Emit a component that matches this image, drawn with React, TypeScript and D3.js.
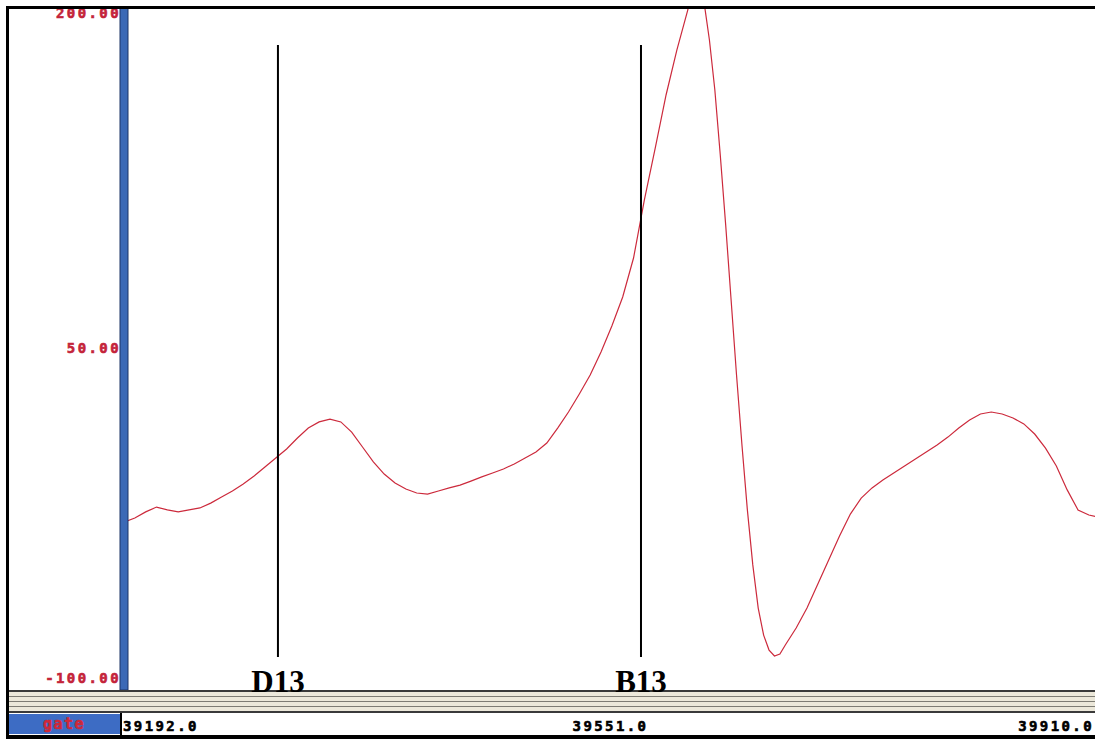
import React from 'react';
import * as d3 from 'd3';

// Sample times (x) and signal values (y)
const times = [
  39192, 39200, 39208, 39216, 39224, 39232, 39240, 39248, 39256, 39264,
  39272, 39280, 39288, 39296, 39304, 39312, 39320, 39328, 39336, 39344,
  39352, 39360, 39368, 39376, 39384, 39392, 39400, 39408, 39416, 39424,
  39432, 39440, 39448, 39456, 39464, 39472, 39480, 39488, 39496, 39504,
  39512, 39520, 39528, 39536, 39544, 39552, 39560, 39568, 39576, 39584,
  39592, 39600, 39608, 39612, 39616, 39620, 39624, 39628, 39632, 39636,
  39640, 39644, 39648, 39652, 39656, 39660, 39664, 39668, 39672, 39676,
  39680, 39688, 39696, 39704, 39712, 39720, 39728, 39736, 39744, 39752,
  39760, 39768, 39776, 39784, 39792, 39800, 39808, 39816, 39824, 39832,
  39840, 39848, 39856, 39864, 39872, 39880, 39888, 39896, 39904, 39910,
];
const values = [
  -29.1, -27.3, -24.5, -22.3, -23.6, -24.5, -23.6, -22.7, -20.5, -17.7,
  -15.0, -11.8, -8.2, -4.1, 0.0, 4.1, 9.1, 13.6, 16.4, 17.7,
  16.4, 11.8, 5.0, -1.8, -7.3, -11.4, -14.1, -15.9, -16.4, -15.0,
  -13.6, -12.3, -10.5, -8.6, -6.8, -5.0, -2.7, 0.0, 2.7, 6.8,
  13.6, 20.9, 29.1, 37.7, 48.2, 60.0, 73.2, 90.9, 117.3, 140.9,
  165.0, 185.5, 203.6, 213.6, 217.3, 207.3, 190.0, 167.3, 137.7, 105.9,
  71.8, 37.7, 5.9, -23.6, -48.6, -68.2, -80.5, -87.3, -90.0, -89.1,
  -85.0, -77.3, -68.2, -57.3, -46.4, -35.5, -25.5, -18.2, -13.6, -10.0,
  -6.8, -3.6, -0.5, 2.7, 5.9, 9.5, 13.6, 17.3, 20.0, 20.9,
  20.0, 18.2, 15.5, 10.9, 4.5, -3.6, -14.5, -23.6, -25.9, -26.8,
];
const yTicks = [200, 50, -100];
const xTicks = [39192, 39551, 39910];
const markerLabels = ['D13', 'B13'];
const markerTimes = [39305.6, 39573.5];
const channelName = 'gate';

const W = 1095;
const H = 739;

export default function App() {
  const x = d3.scaleLinear().domain([39192, 39910]).range([124, 1097]);
  const y = d3.scaleLinear().domain([-100, 200]).range([678, 18]);
  const data = times.map((t, i) => [t, values[i]] as [number, number]);
  const line = d3
    .line<[number, number]>()
    .x((d) => x(d[0]))
    .y((d) => y(d[1]))
    .curve(d3.curveLinear);

  const plotLeft = 128;
  const plotTop = 9;
  const plotBottom = 690;
  const mono = "'DejaVu Sans Mono', monospace";

  const stripes = [
    { y: 690, h: 2, c: '#3a3a3a' },
    { y: 692, h: 4, c: '#ece8da' },
    { y: 696, h: 1, c: '#7e7c74' },
    { y: 697, h: 4, c: '#ece8da' },
    { y: 701, h: 1, c: '#7e7c74' },
    { y: 702, h: 4, c: '#ece8da' },
    { y: 706, h: 1, c: '#7e7c74' },
    { y: 707, h: 4, c: '#ece8da' },
    { y: 711, h: 2, c: '#3a3a3a' },
  ];

  const labelStyle = {
    fontFamily: mono,
    fontWeight: 'bold' as const,
    fontSize: 14,
    letterSpacing: 2.4,
    strokeWidth: 0.6,
  };

  return (
    <svg
      width={W}
      height={H}
      style={{ position: 'absolute', left: 0, top: 0, background: '#fff' }}
    >
      <defs>
        <clipPath id="plotClip">
          <rect x={plotLeft} y={plotTop} width={W - plotLeft} height={plotBottom - plotTop} />
        </clipPath>
      </defs>
      <rect x={0} y={0} width={W} height={H} fill="#fff" />

      {/* y labels */}
      {yTicks.map((v, i) => (
        <text
          key={v}
          x={121}
          y={i === 0 ? y(v) - 5 : y(v)}
          textAnchor="end"
          dominantBaseline="central"
          fill="#c4243a"
          stroke="#c4243a"
          {...labelStyle}
        >
          {v.toFixed(2)}
        </text>
      ))}

      {/* signal */}
      <path
        d={line(data) || ''}
        fill="none"
        stroke="#cc2a3c"
        strokeWidth={1.2}
        clipPath="url(#plotClip)"
      />

      {/* marker lines */}
      {markerTimes.map((t, i) => (
        <line
          key={'m' + i}
          x1={x(t)}
          x2={x(t)}
          y1={45}
          y2={657}
          stroke="#000"
          strokeWidth={2}
        />
      ))}

      {/* left blue bar */}
      <rect x={120} y={8} width={8} height={682} fill="#3b69b6" stroke="#1c3466" strokeWidth={1} />

      {/* stripes */}
      {stripes.map((s, i) => (
        <rect key={'s' + i} x={8} y={s.y} width={W - 8} height={s.h} fill={s.c} />
      ))}

      {/* bottom strip */}
      <rect x={8} y={713} width={W - 8} height={22} fill="#fff" />
      <rect x={8} y={714} width={112} height={20} fill="#3d6cc4" />
      <line x1={121} x2={121} y1={713} y2={735} stroke="#000" strokeWidth={2} />
      <text
        x={64}
        y={724}
        textAnchor="middle"
        dominantBaseline="central"
        fill="#d02838"
        stroke="#d02838"
        {...labelStyle}
        fontSize={15}
        letterSpacing={1.5}
      >
        {channelName}
      </text>
      {xTicks.map((t, i) => (
        <text
          key={'x' + t}
          x={i === 0 ? x(t) - 1 : i === xTicks.length - 1 ? x(t) - 3 : x(t)}
          y={726}
          textAnchor={i === 0 ? 'start' : i === xTicks.length - 1 ? 'end' : 'middle'}
          dominantBaseline="central"
          fill="#000"
          stroke="#000"
          {...labelStyle}
        >
          {t.toFixed(1)}
        </text>
      ))}

      {/* frame */}
      <rect x={0} y={0} width={W} height={6} fill="#fff" />
      <line x1={7} x2={W} y1={7.5} y2={7.5} stroke="#000" strokeWidth={3} />
      <line x1={7.5} x2={7.5} y1={6} y2={739} stroke="#000" strokeWidth={3} />
      <rect x={6} y={735} width={W - 6} height={4} fill="#000" />

      {/* marker labels */}
      {markerTimes.map((t, i) => (
        <text
          key={'ml' + i}
          x={x(t)}
          y={692}
          textAnchor="middle"
          fill="#000"
          fontFamily="'Liberation Serif', 'Times New Roman', serif"
          fontWeight="bold"
          fontSize={31}
        >
          {markerLabels[i]}
        </text>
      ))}
    </svg>
  );
}
